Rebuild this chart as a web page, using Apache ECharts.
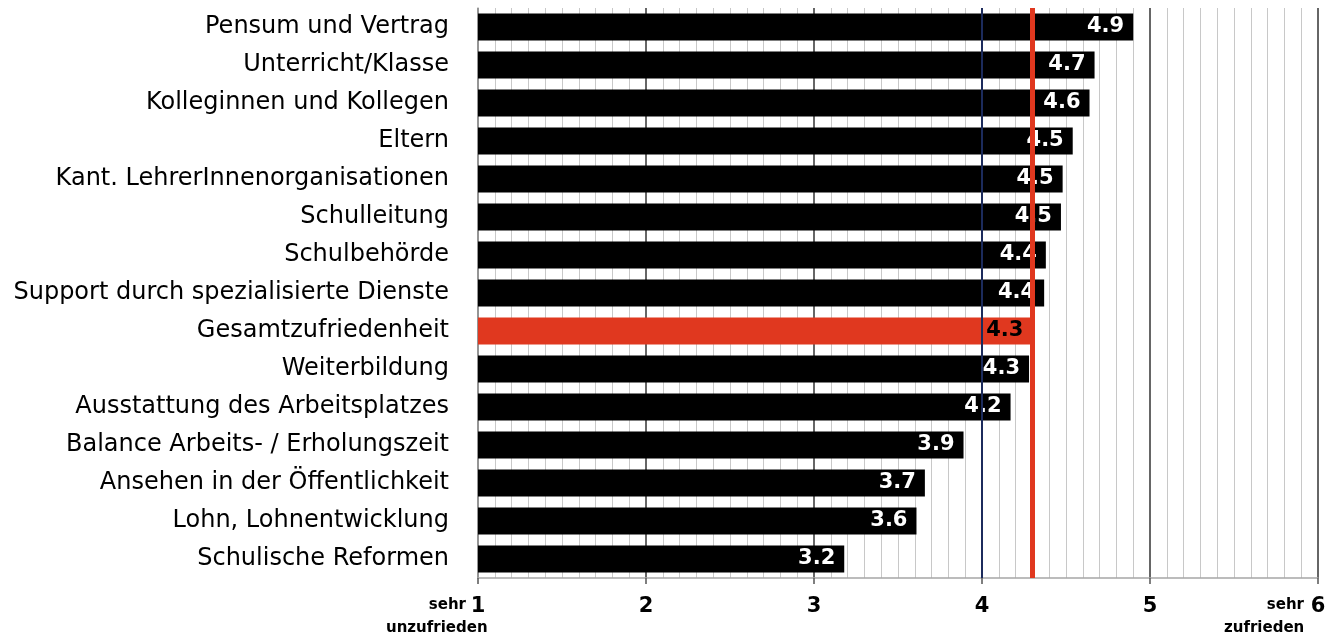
<!DOCTYPE html>
<html>
<head>
<meta charset="utf-8">
<script src="https://cdn.jsdelivr.net/npm/echarts@6/dist/echarts.min.js"></script>
<style>
html, body { margin: 0; padding: 0; background: #fff; }
#chart { width: 1338px; height: 635px; }
</style>
</head>
<body>
<div id="chart"></div>
<script>
const categories = [
    'Pensum und Vertrag',
    'Unterricht/Klasse',
    'Kolleginnen und Kollegen',
    'Eltern',
    'Kant. LehrerInnenorganisationen',
    'Schulleitung',
    'Schulbehörde',
    'Support durch spezialisierte Dienste',
    'Gesamtzufriedenheit',
    'Weiterbildung',
    'Ausstattung des Arbeitsplatzes',
    'Balance Arbeits- / Erholungszeit',
    'Ansehen in der Öffentlichkeit',
    'Lohn, Lohnentwicklung',
    'Schulische Reformen'
];
const values = [4.9, 4.67, 4.64, 4.54, 4.48, 4.47, 4.38, 4.37, 4.3, 4.28, 4.17, 3.89, 3.66, 3.61, 3.18];
const highlight = 'Gesamtzufriedenheit';
const scaleMid = 4;
const overall = 4.3;

const labelFont = 'DejaVu Sans';

let myChart = echarts.init(document.getElementById('chart'));

let barData = values.map((v, i) => {
    let isTotal = categories[i] === highlight;
    return {
        value: v,
        itemStyle: { color: isTotal ? '#e0381f' : '#000' },
        label: { color: isTotal ? '#000' : '#fff' }
    };
});

let option = {
    animation: false,
    grid: {
        top: 8,
        left: 478,
        right: 20,
        bottom: 57
    },
    xAxis: {
        type: 'value',
        min: 1,
        max: 6,
        interval: 1,
        axisLine: { show: true, lineStyle: { color: '#a6a6a6', width: 1.5 } },
        axisTick: { show: true, length: 6, lineStyle: { color: '#555', width: 1.5 } },
        minorTick: { show: false, splitNumber: 10 },
        minorSplitLine: { show: true, lineStyle: { color: '#c8c8c8', width: 1 } },
        splitLine: { show: true, lineStyle: { color: '#333', width: 1.5 } },
        axisLabel: {
            margin: 18,
            fontFamily: labelFont,
            fontWeight: 'bold',
            fontSize: 21,
            color: '#000'
        }
    },
    yAxis: {
        type: 'category',
        inverse: true,
        data: categories,
        axisLine: { show: true, lineStyle: { color: '#a6a6a6', width: 1.5 } },
        axisTick: { show: false },
        axisLabel: {
            margin: 29,
            fontFamily: 'DejaVu Sans',
            fontSize: 24,
            color: '#000'
        }
    },
    series: [
        {
            type: 'bar',
            data: barData,
            barCategoryGap: '29%',
            z: 2,
            label: {
                show: true,
                position: 'insideRight',
                distance: 9,
                fontFamily: labelFont,
                fontWeight: 'bold',
                fontSize: 21,
                formatter: p => p.value.toFixed(1)
            }
        },
        {
            type: 'line',
            data: [],
            z: 10,
            markLine: {
                silent: true,
                symbol: 'none',
                label: { show: false },
                data: [
                    { xAxis: scaleMid, lineStyle: { color: '#1c2b5c', width: 2, type: 'solid' } },
                    { xAxis: overall, lineStyle: { color: '#e0381f', width: 5, type: 'solid' } }
                ]
            }
        }
    ],
    graphic: [
        {
            type: 'text', right: 1338 - 466, top: 598,
            style: { text: 'sehr', fontFamily: labelFont, fontWeight: 'bold', fontSize: 15, fill: '#000' }
        },
        {
            type: 'text', left: 386, top: 621,
            style: { text: 'unzufrieden', fontFamily: labelFont, fontWeight: 'bold', fontSize: 15, fill: '#000' }
        },
        {
            type: 'text', right: 1338 - 1304, top: 598,
            style: { text: 'sehr', fontFamily: labelFont, fontWeight: 'bold', fontSize: 15, fill: '#000' }
        },
        {
            type: 'text', left: 1224, top: 621,
            style: { text: 'zufrieden', fontFamily: labelFont, fontWeight: 'bold', fontSize: 15, fill: '#000' }
        }
    ]
};

myChart.setOption(option);
</script>
</body>
</html>
